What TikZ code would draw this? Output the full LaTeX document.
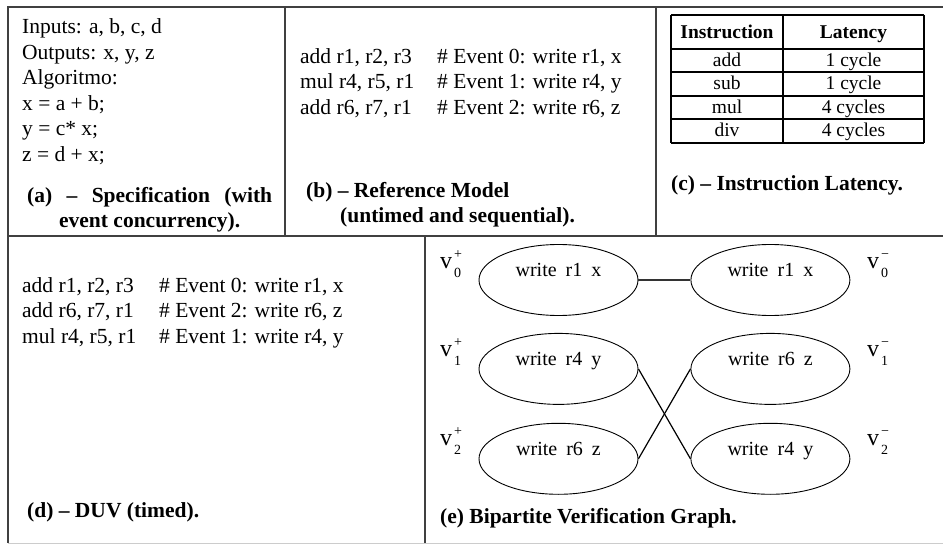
\documentclass[tikz,border=0pt]{standalone}
\usepackage{fontspec}
\setmainfont{Liberation Serif}
\usetikzlibrary{shapes.geometric,positioning}

\newcommand{\cmt}[2]{\makebox[137pt][l]{#1}#2}
\newcommand{\vlab}[2]{v\kern2pt\rlap{\raisebox{10pt}{\fontsize{14}{14}\selectfont #1}}%
  \raisebox{-8.5pt}{\fontsize{14}{14}\selectfont #2}}

\begin{document}
\begin{tikzpicture}[x=1pt,y=-1pt,
    node distance=17pt and 52pt,
    frame/.style={line width=1.6pt,black!75},
    body/.style={anchor=north west,inner sep=0pt,align=left,
                 font=\fontsize{21.5}{25.5}\selectfont},
    captxt/.style={anchor=north west,inner sep=0pt,align=left,
                font=\fontsize{21.5}{25}\selectfont\bfseries},
    tb/.style={anchor=base,inner sep=0pt,font=\fontsize{19.5}{19.5}\selectfont},
    ev/.style={ellipse,draw,line width=0.9pt,minimum width=159pt,
               minimum height=71pt,inner sep=0pt,text height=14pt,text depth=21pt,
               font=\fontsize{20}{20}\selectfont},
    vl/.style={anchor=base west,inner sep=0pt,font=\fontsize{24}{24}\selectfont}]
\useasboundingbox (0,0) rectangle (943,545);

% frame of the five panels
\draw[frame] (943,7) -- (8,7) -- (8,543);
\draw[gray!40,line width=1pt] (8,543) -- (943,543);
\draw[frame] (285,7) -- (285,236);
\draw[frame] (656,7) -- (656,236);
\draw[frame] (8,236) -- (943,236);
\draw[frame] (425,236) -- (425,543);

% (a) specification
\node[body] (spec) at (22,18.5) {Inputs: a, b, c, d\\Outputs: x, y, z\\Algoritmo:\\
  x = a + b;\\y = c* x;\\z = d + x;};
\node[captxt,align=center] (capa) at (27,187)
  {\makebox[245pt][s]{(a) – Specification (with}\\event concurrency).};

% (b) reference model
\node[body] (refm) at (300,48) {\cmt{add r1, r2, r3}{\# Event 0: write r1, x}\\
  \cmt{mul r4, r5, r1}{\# Event 1: write r4, y}\\
  \cmt{add r6, r7, r1}{\# Event 2: write r6, z}};
\node[captxt] (capb) at (306,182) {(b) – Reference Model\\
  \hspace{34pt}(untimed and sequential).};

% (c) latency table
\foreach \y in {15,49,72,96,119,143} \draw[line width=1.1pt] (671,\y) -- (924,\y);
\foreach \x in {671,783,924} \draw[line width=1.1pt] (\x,15) -- (\x,143);
\node[tb,font=\fontsize{19.5}{19.5}\selectfont\bfseries] (hi) at (727,38.5) {Instruction};
\node[tb,font=\fontsize{19.5}{19.5}\selectfont\bfseries] (hl) at (853.5,38.5) {Latency};
\foreach \op/\lat/\y in {add/1 cycle/66.5,sub/1 cycle/90,mul/4 cycles/113.5,div/4 cycles/137}{
  \node[tb] (op-\op) at (727,\y) {\op};
  \node[tb] (lat-\op) at (853.5,\y) {\lat};
}
\node[captxt] (capc) at (671,175) {(c) – Instruction Latency.};

% (d) DUV
\node[body] (duv) at (22,277) {\cmt{add r1, r2, r3}{\# Event 0: write r1, x}\\
  \cmt{add r6, r7, r1}{\# Event 2: write r6, z}\\
  \cmt{mul r4, r5, r1}{\# Event 1: write r4, y}};
\node[captxt] (capd) at (27,502) {(d) – DUV (timed).};

% (e) bipartite graph
\node[ev] (p0) at (558.5,280) {write\hspace{9pt}r1\hspace{9pt}x};
\node[ev,below=of p0] (p1) {write\hspace{9pt}r4\hspace{9pt}y};
\node[ev,below=18pt of p1] (p2) {write\hspace{9pt}r6\hspace{9pt}z};
\node[ev,right=of p0] (m0) {write\hspace{9pt}r1\hspace{9pt}x};
\node[ev,right=of p1] (m1) {write\hspace{9pt}r6\hspace{9pt}z};
\node[ev,right=of p2] (m2) {write\hspace{9pt}r4\hspace{9pt}y};
\node[vl] (vp0) at (440,269) {\vlab{+}{0}};
\node[vl] (vp1) at (440,357) {\vlab{+}{1}};
\node[vl] (vp2) at (440,446) {\vlab{+}{2}};
\node[vl] (vm0) at (867,269) {\vlab{−}{0}};
\node[vl] (vm1) at (867,357) {\vlab{−}{1}};
\node[vl] (vm2) at (867,446) {\vlab{−}{2}};
\draw[line width=2pt,black!80] (p0) -- (m0);
\draw[line width=1.2pt] (p1.east) -- (m2.west);
\draw[line width=1.2pt] (p2.east) -- (m1.west);
\node[captxt] (cape) at (440,508) {(e) Bipartite Verification Graph.};
\end{tikzpicture}
\end{document}
